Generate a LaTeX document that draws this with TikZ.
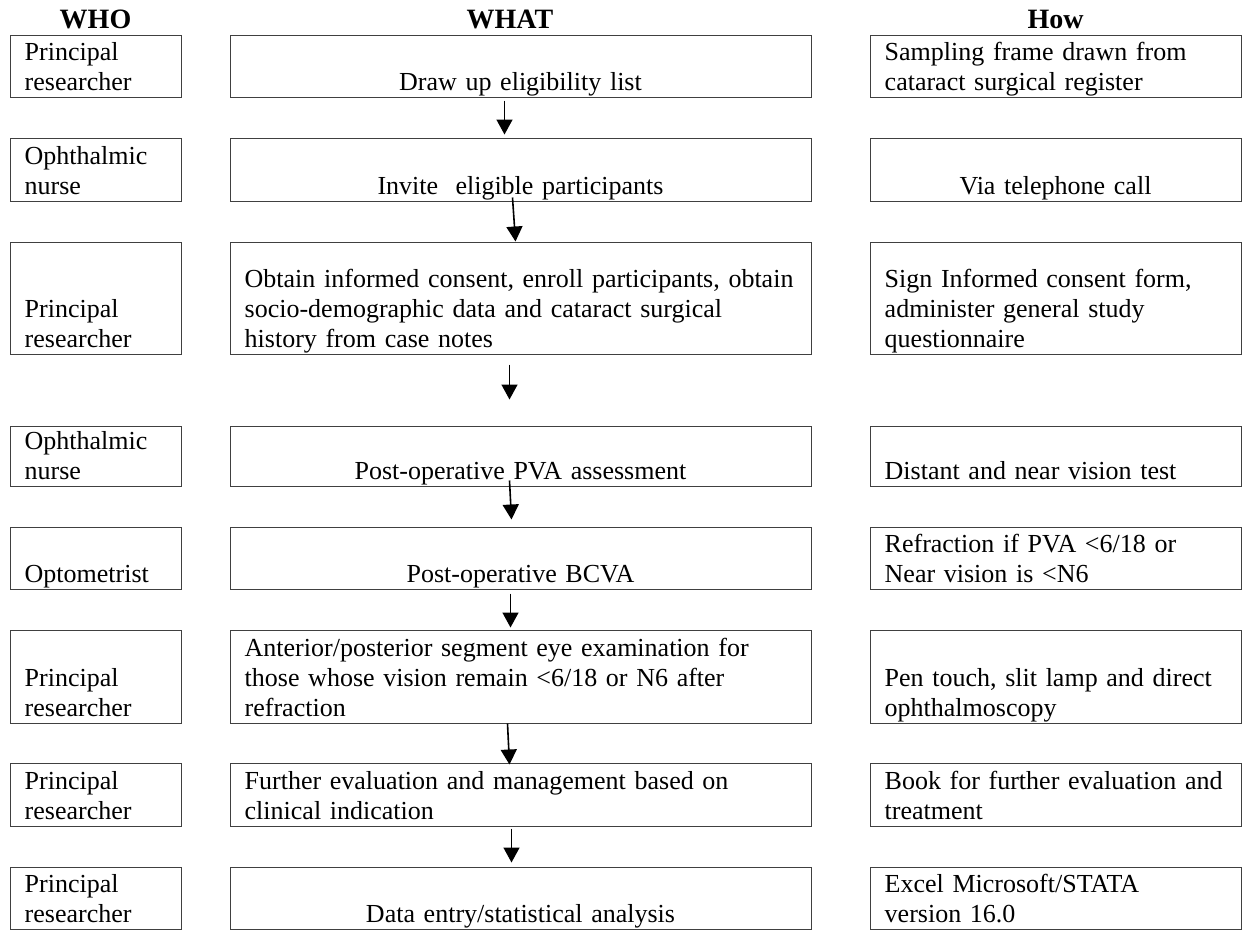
\documentclass[tikz,border=0pt]{standalone}
\usepackage{fontspec}
\setmainfont{Liberation Serif}
\usetikzlibrary{positioning, arrows.meta}

\begin{document}
\begin{tikzpicture}[
    x=1pt, y=-1pt,
    >=Stealth,
    cell/.style={
        rectangle,
        draw=black!75,
        line width=1pt,
        inner sep=0pt
    },
    whobox/.style={cell, minimum width=171pt},
    whatbox/.style={cell, minimum width=581pt},
    howbox/.style={cell, minimum width=371pt},
    head/.style={
        font=\fontsize{28}{30}\selectfont\bfseries,
        anchor=base,
        inner sep=0pt
    },
    txt/.style={
        font=\fontsize{26}{30}\selectfont,
        align=left,
        text width=700pt,
        anchor=base west,
        inner sep=0pt
    },
    ctxt/.style={
        font=\fontsize{26}{30}\selectfont,
        align=center,
        text width=560pt,
        anchor=base,
        inner sep=0pt
    },
    arrow/.style={-{Triangle[width=16pt,length=15pt]}, line width=1.6pt}
]

\path[use as bounding box, fill=white] (0,0) rectangle (1254,930);

% Column heads
\node[head] (whohead) at (95.5,28) {WHO};
\node[head] (whathead) at (510,28) {WHAT};
\node[head] (howhead) at (1055.5,28) {How};

% Row 1
\node[whobox, minimum height=62pt] (who1) at (95.5,66) {};
\node[whatbox, minimum height=62pt] (what1) at (520.5,66) {};
\node[howbox, minimum height=62pt] (how1) at (1055.5,66) {};
\node[txt] (who1t) at ([shift={(15pt,37pt)}]who1.south west) {Principal\\researcher};
\node[ctxt] (what1t) at ([yshift=7pt]what1.south) {Draw up eligibility list};
\node[txt] (how1t) at ([shift={(15pt,37pt)}]how1.south west) {Sampling frame drawn from\\cataract surgical register};

% Row 2
\node[whobox, minimum height=63pt] (who2) at (95.5,169.5) {};
\node[whatbox, minimum height=63pt] (what2) at (520.5,169.5) {};
\node[howbox, minimum height=63pt] (how2) at (1055.5,169.5) {};
\node[txt] (who2t) at ([shift={(15pt,37pt)}]who2.south west) {Ophthalmic\\nurse};
\node[ctxt] (what2t) at ([yshift=7pt]what2.south) {Invite\ \ eligible participants};
\node[ctxt] (how2t) at ([yshift=7pt]how2.south) {Via telephone call};

% Row 3
\node[whobox, minimum height=112pt] (who3) at (95.5,298) {};
\node[whatbox, minimum height=112pt] (what3) at (520.5,298) {};
\node[howbox, minimum height=112pt] (how3) at (1055.5,298) {};
\node[txt] (who3t) at ([shift={(15pt,37pt)}]who3.south west) {Principal\\researcher};
\node[txt] (what3t) at ([shift={(15pt,67pt)}]what3.south west) {Obtain informed consent, enroll participants, obtain\\socio-demographic data and cataract surgical\\history from case notes};
\node[txt] (how3t) at ([shift={(15pt,67pt)}]how3.south west) {Sign Informed consent form,\\administer general study\\questionnaire};

% Row 4
\node[whobox, minimum height=60pt] (who4) at (95.5,456) {};
\node[whatbox, minimum height=60pt] (what4) at (520.5,456) {};
\node[howbox, minimum height=60pt] (how4) at (1055.5,456) {};
\node[txt] (who4t) at ([shift={(15pt,37pt)}]who4.south west) {Ophthalmic\\nurse};
\node[ctxt] (what4t) at ([yshift=7pt]what4.south) {Post-operative PVA assessment};
\node[txt] (how4t) at ([shift={(15pt,7pt)}]how4.south west) {Distant and near vision test};

% Row 5
\node[whobox, minimum height=62pt] (who5) at (95.5,558) {};
\node[whatbox, minimum height=62pt] (what5) at (520.5,558) {};
\node[howbox, minimum height=62pt] (how5) at (1055.5,558) {};
\node[txt] (who5t) at ([shift={(15pt,7pt)}]who5.south west) {Optometrist};
\node[ctxt] (what5t) at ([yshift=7pt]what5.south) {Post-operative BCVA};
\node[txt] (how5t) at ([shift={(15pt,37pt)}]how5.south west) {Refraction if PVA <6/18 or\\Near vision is <N6};

% Row 6
\node[whobox, minimum height=93pt] (who6) at (95.5,676.5) {};
\node[whatbox, minimum height=93pt] (what6) at (520.5,676.5) {};
\node[howbox, minimum height=93pt] (how6) at (1055.5,676.5) {};
\node[txt] (who6t) at ([shift={(15pt,37pt)}]who6.south west) {Principal\\researcher};
\node[txt] (what6t) at ([shift={(15pt,67pt)}]what6.south west) {Anterior/posterior segment eye examination for\\those whose vision remain <6/18 or N6 after\\refraction};
\node[txt] (how6t) at ([shift={(15pt,37pt)}]how6.south west) {Pen touch, slit lamp and direct\\ophthalmoscopy};

% Row 7
\node[whobox, minimum height=63pt] (who7) at (95.5,794.5) {};
\node[whatbox, minimum height=63pt] (what7) at (520.5,794.5) {};
\node[howbox, minimum height=63pt] (how7) at (1055.5,794.5) {};
\node[txt] (who7t) at ([shift={(15pt,37pt)}]who7.south west) {Principal\\researcher};
\node[txt] (what7t) at ([shift={(15pt,37pt)}]what7.south west) {Further evaluation and management based on\\clinical indication};
\node[txt] (how7t) at ([shift={(15pt,37pt)}]how7.south west) {Book for further evaluation and\\treatment};

% Row 8
\node[whobox, minimum height=62pt] (who8) at (95.5,898) {};
\node[whatbox, minimum height=62pt] (what8) at (520.5,898) {};
\node[howbox, minimum height=62pt] (how8) at (1055.5,898) {};
\node[txt] (who8t) at ([shift={(15pt,37pt)}]who8.south west) {Principal\\researcher};
\node[ctxt] (what8t) at ([yshift=7pt]what8.south) {Data entry/statistical analysis};
\node[txt] (how8t) at ([shift={(15pt,37pt)}]how8.south west) {Excel Microsoft/STATA\\version 16.0};

% Arrows
\draw[arrow] ([xshift=-16pt,yshift=-3pt]what1.south) -- ([xshift=-16pt,yshift=3pt]what2.north);
\draw[arrow] ([xshift=-8pt,yshift=4pt]what2.south) -- ([xshift=-5pt]what3.north);
\draw[arrow] ([xshift=-11pt,yshift=-10pt]what3.south) -- ([xshift=-11pt,yshift=26pt]what4.north);
\draw[arrow] ([xshift=-11pt,yshift=6pt]what4.south) -- ([xshift=-9pt,yshift=7pt]what5.north);
\draw[arrow] ([xshift=-10pt,yshift=-4pt]what5.south) -- ([xshift=-10pt,yshift=2pt]what6.north);
\draw[arrow] ([xshift=-13pt]what6.south) -- ([xshift=-11pt,yshift=-2pt]what7.north);
\draw[arrow] ([xshift=-9pt,yshift=-2pt]what7.south) -- ([xshift=-9pt,yshift=4pt]what8.north);

\end{tikzpicture}
\end{document}
